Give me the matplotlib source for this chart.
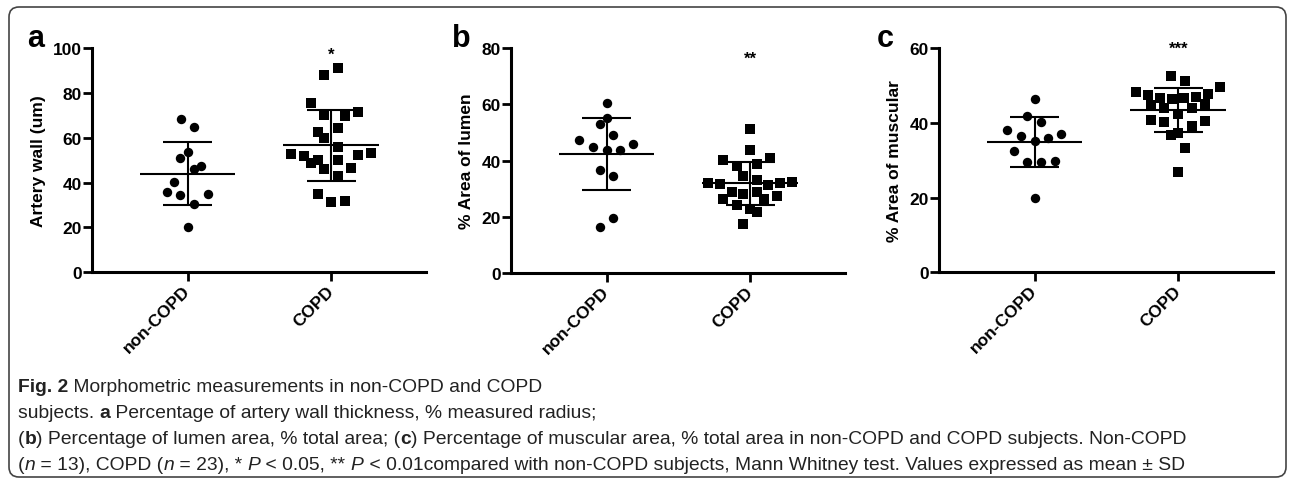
import numpy as np
import matplotlib
matplotlib.use("Agg")
import matplotlib.pyplot as plt
from matplotlib import font_manager
from matplotlib.patches import FancyBboxPatch
from matplotlib.transforms import IdentityTransform

# ---------------- data ----------------
categories = ["non-COPD", "COPD"]

a_non = [68.4, 64.9, 53.8, 50.8, 47.5, 46.1, 40.1, 36.0, 34.5, 34.9, 30.5, 20.1]
a_non_dx = [-0.047, 0.047, 0.0, -0.049, 0.093, 0.047, -0.096, -0.142, -0.049, 0.140, 0.047, 0.0]
a_copd = [90.9, 88.0, 75.5, 71.6, 70.1, 69.5, 62.7, 64.5, 60.0, 56.0, 52.6, 51.9,
          50.1, 48.6, 49.9, 52.2, 53.3, 46.1, 46.7, 42.9, 34.8, 31.2, 31.8]
a_copd_dx = [0.047, -0.047, -0.14, 0.186, -0.047, 0.093, -0.093, 0.047, -0.047, 0.047, -0.28, -0.186,
             -0.093, -0.14, 0.047, 0.186, 0.28, -0.047, 0.14, 0.047, -0.093, 0.0, 0.093]

b_non = [60.4, 55.1, 52.9, 49.0, 47.3, 44.7, 43.8, 43.8, 45.8, 36.7, 34.7, 19.6, 16.4]
b_non_dx = [0.0, 0.0, -0.047, 0.047, -0.189, -0.096, 0.0, 0.093, 0.186, -0.047, 0.047, 0.047, -0.047]
b_copd = [51.2, 43.7, 40.4, 40.9, 38.1, 38.9, 34.7, 33.3, 32.2, 31.7, 31.4, 32.1,
          32.5, 29.0, 28.0, 29.0, 26.5, 26.3, 27.5, 24.3, 22.7, 21.9, 17.5]
b_copd_dx = [0.0, 0.0, -0.189, 0.14, -0.093, 0.047, -0.047, 0.047, -0.296, -0.21, 0.126, 0.21,
             0.294, -0.126, -0.047, 0.047, -0.189, 0.093, 0.186, -0.093, 0.0, 0.047, -0.047]

c_non = [46.3, 41.8, 40.2, 38.1, 36.5, 37.1, 36.0, 35.1, 32.4, 29.5, 29.5, 29.9, 19.8]
c_non_dx = [0.0, -0.049, 0.044, -0.191, -0.096, 0.186, 0.093, 0.0, -0.145, -0.049, 0.044, 0.14, 0.0]
c_copd = [52.4, 51.2, 49.6, 48.1, 47.4, 46.5, 46.3, 46.5, 46.9, 47.8, 44.7, 44.9,
          43.9, 44.0, 42.3, 40.8, 40.2, 40.6, 39.1, 36.8, 37.3, 33.3, 26.9]
c_copd_dx = [-0.049, 0.047, 0.289, -0.296, -0.21, -0.126, -0.042, 0.042, 0.126, 0.21, -0.189, 0.189,
             -0.096, 0.093, 0.0, -0.189, -0.096, 0.186, 0.093, -0.049, 0.0, 0.047, 0.0]

panel_letters = ["a", "b", "c"]
y_labels = ["Artery wall (um)", "% Area of lumen", "% Area of muscular"]
y_ticks = [[0, 20, 40, 60, 80, 100], [0, 20, 40, 60, 80], [0, 20, 40, 60]]
sig_marks = ["*", "**", "***"]

# ---------------- fonts ----------------
names = {f.name for f in font_manager.fontManager.ttflist}
main_font = "Liberation Sans" if "Liberation Sans" in names else "DejaVu Sans"
cap_font = "Liberation Sans Narrow" if "Liberation Sans Narrow" in names else main_font
plt.rcParams["font.family"] = [main_font, "DejaVu Sans"]

W, H = 1292, 481
fig = plt.figure(figsize=(W / 100, H / 100), dpi=100)
fig.patch.set_facecolor("white")

FS = 12.5

# axes boxes in pixels: left, top, bottom, width
boxes = [(92, 49, 273.3, 334), (511, 49, 274.3, 334), (939, 49, 273.3, 334)]
letter_pos = [(27, 47), (452, 47), (877, 47)]
star_y = [97.0, 76.2, 60.0]

groups = [(a_non, a_non_dx, a_copd, a_copd_dx),
          (b_non, b_non_dx, b_copd, b_copd_dx),
          (c_non, c_non_dx, c_copd, c_copd_dx)]

for i, (l, t, b, w) in enumerate(boxes):
    ax = fig.add_axes([l / W, 1 - b / H, w / W, (b - t) / H])
    non, ndx, cop, cdx = groups[i]
    ax.scatter(0 + np.array(ndx), non, s=46, marker="o", color="black", linewidths=0, zorder=2)
    ax.scatter(1 + np.array(cdx), cop, s=50, marker="s", color="black", linewidths=0, zorder=2)
    for xc, vals in [(0, non), (1, cop)]:
        m = np.mean(vals)
        sd = np.std(vals, ddof=1)
        ax.plot([xc - 0.333, xc + 0.333], [m, m], color="black", lw=1.5, zorder=3, solid_capstyle="butt")
        ax.plot([xc, xc], [m - sd, m + sd], color="black", lw=1.5, zorder=3, solid_capstyle="butt")
        for yy in (m - sd, m + sd):
            ax.plot([xc - 0.17, xc + 0.17], [yy, yy], color="black", lw=1.5, zorder=3, solid_capstyle="butt")
    ax.set_xlim(-0.665, 1.66)
    ax.set_ylim(0, y_ticks[i][-1])
    ax.set_yticks(y_ticks[i])
    ax.set_xticks([0, 1])
    ax.set_xticklabels(categories, rotation=45, ha="right", va="center",
                       rotation_mode="anchor", fontweight="bold", fontsize=FS)
    for lab in ax.get_yticklabels():
        lab.set_fontweight("bold")
        lab.set_fontsize(FS)
    ax.tick_params(axis="both", direction="out", length=6.5, width=2.0, pad=1, colors="black")
    ax.tick_params(axis="x", pad=5)
    for s in ["top", "right"]:
        ax.spines[s].set_visible(False)
    for s in ["left", "bottom"]:
        ax.spines[s].set_linewidth(2.2)
    ax.set_ylabel(y_labels[i], fontweight="bold", fontsize=FS, labelpad=5)
    ax.text(1, star_y[i], sig_marks[i], ha="center", va="center", fontsize=12, fontweight="bold",
            clip_on=False)
    lx, ly = letter_pos[i]
    fig.text(lx / W, 1 - ly / H, panel_letters[i], fontsize=22, fontweight="bold",
             ha="left", va="baseline")

# ---------------- caption ----------------
N = {"fontweight": "normal"}
B = {"fontweight": "bold"}
I = {"fontstyle": "italic"}
caption_lines = [
    [("Fig. 2", B), (" Morphometric measurements in non-COPD and COPD", N)],
    [("subjects. ", N), ("a", B), (" Percentage of artery wall thickness, % measured radius;", N)],
    [("(", N), ("b", B), (") Percentage of lumen area, % total area; (", N), ("c", B),
     (") Percentage of muscular area, % total area in non-COPD and COPD subjects. Non-COPD", N)],
    [("(", N), ("n", I), (" = 13), COPD (", N), ("n", I), (" = 23), * ", N), ("P", I),
     (" < 0.05, ** ", N), ("P", I),
     (" < 0.01compared with non-COPD subjects, Mann Whitney test. Values expressed as mean \u00b1 SD", N)],
]
baselines = [392, 418, 444, 470]
x0 = 18
renderer = fig.canvas.get_renderer()


def seg_width(txt, props, size):
    t1 = fig.text(0, 0, "|" + txt + "|", fontsize=size, family=[cap_font, "DejaVu Sans"], **props)
    t2 = fig.text(0, 0, "||", fontsize=size, family=[cap_font, "DejaVu Sans"], **props)
    w = t1.get_window_extent(renderer).width - t2.get_window_extent(renderer).width
    t1.remove()
    t2.remove()
    return w


trial = 10.0
w3 = sum(seg_width(s, p, trial) for s, p in caption_lines[2])
cap_size = trial * (1170.0 / w3)

for line, yb in zip(caption_lines, baselines):
    x = x0
    for s, p in line:
        fig.text(x / W, 1 - yb / H, s, fontsize=cap_size, family=[cap_font, "DejaVu Sans"],
                 ha="left", va="baseline", color="#222222", **p)
        x += seg_width(s, p, cap_size)

# ---------------- rounded frame ----------------
frame = FancyBboxPatch((9, 3), 1277, 470, boxstyle="round,pad=0,rounding_size=10",
                       transform=IdentityTransform(), facecolor="none", edgecolor="#444444",
                       linewidth=1.2)
fig.add_artist(frame)

fig.savefig("out.png", dpi=100)
